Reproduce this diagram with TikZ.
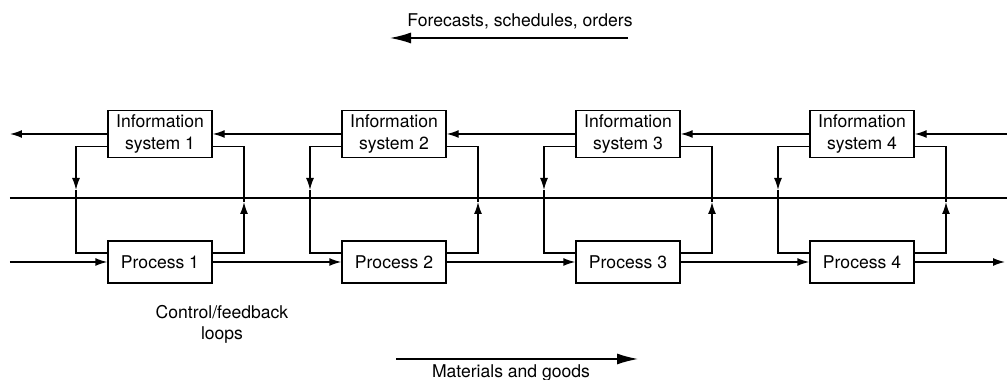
\documentclass[tikz,border=0pt]{standalone}
\usepackage{fontspec}
\setmainfont{TeX Gyre Heros}
\usetikzlibrary{arrows.meta}

\tikzset{
  box/.style={draw, line width=.8pt, minimum width=2.08cm, align=center, inner sep=1pt},
  infobox/.style={box, minimum height=.94cm},
  procbox/.style={box, minimum height=.84cm},
  line/.style={line width=.8pt},
  flow/.style={line, -{Latex[length=2.4mm,width=1.6mm]}},
  bigflow/.style={line, -{Latex[length=4.2mm,width=2.2mm]}},
}

\begin{document}
\begin{tikzpicture}

\useasboundingbox (0,0) rectangle (20.14,7.6) ;

\node [infobox] (info1) at (3.2,4.92) {Information\\system 1} ;
\node [infobox] (info2) at (7.88,4.92) {Information\\system 2} ;
\node [infobox] (info3) at (12.56,4.92) {Information\\system 3} ;
\node [infobox] (info4) at (17.24,4.92) {Information\\system 4} ;

\node [procbox] (proc1) at (3.2,2.36) {Process 1} ;
\node [procbox] (proc2) at (7.88,2.36) {Process 2} ;
\node [procbox] (proc3) at (12.56,2.36) {Process 3} ;
\node [procbox] (proc4) at (17.24,2.36) {Process 4} ;

% ends at the edges
\coordinate (infoout) at (0.2,4.92) ;
\coordinate (infoin) at (20.14,4.92) ;
\coordinate (procin) at (0.2,2.36) ;
\coordinate (procout) at (20.1,2.36) ;
\coordinate (splitL) at (0.2,3.64) ;
\coordinate (splitR) at (20.14,3.64) ;

\draw [line] (splitL) to (splitR) ;

\draw [flow] (infoin) to (info4) ;
\draw [flow] (info4) to (info3) ;
\draw [flow] (info3) to (info2) ;
\draw [flow] (info2) to (info1) ;
\draw [flow] (info1) to (infoout) ;

\draw [flow] (procin) to (proc1) ;
\draw [flow] (proc1) to (proc2) ;
\draw [flow] (proc2) to (proc3) ;
\draw [flow] (proc3) to (proc4) ;
\draw [flow] (proc4) to (procout) ;

% control/feedback loops
\coordinate (down1) at (1.52,3.8) ;
\coordinate (down2) at (6.2,3.8) ;
\coordinate (down3) at (10.88,3.8) ;
\coordinate (down4) at (15.56,3.8) ;
\coordinate (up1) at (4.88,3.56) ;
\coordinate (up2) at (9.56,3.56) ;
\coordinate (up3) at (14.24,3.56) ;
\coordinate (up4) at (18.92,3.56) ;

\draw [flow] ([yshift=-.25cm]info1.west) -| (down1) ;
\draw [line] (down1) |- ([yshift=.18cm]proc1.west) ;
\draw [flow] ([yshift=.18cm]proc1.east) -| (up1) ;
\draw [line] (up1) |- ([yshift=-.25cm]info1.east) ;

\draw [flow] ([yshift=-.25cm]info2.west) -| (down2) ;
\draw [line] (down2) |- ([yshift=.18cm]proc2.west) ;
\draw [flow] ([yshift=.18cm]proc2.east) -| (up2) ;
\draw [line] (up2) |- ([yshift=-.25cm]info2.east) ;

\draw [flow] ([yshift=-.25cm]info3.west) -| (down3) ;
\draw [line] (down3) |- ([yshift=.18cm]proc3.west) ;
\draw [flow] ([yshift=.18cm]proc3.east) -| (up3) ;
\draw [line] (up3) |- ([yshift=-.25cm]info3.east) ;

\draw [flow] ([yshift=-.25cm]info4.west) -| (down4) ;
\draw [line] (down4) |- ([yshift=.18cm]proc4.west) ;
\draw [flow] ([yshift=.18cm]proc4.east) -| (up4) ;
\draw [line] (up4) |- ([yshift=-.25cm]info4.east) ;

% labels and direction arrows
\node (forecasts) at (10.4,7.18) {Forecasts, schedules, orders} ;
\coordinate (fcstart) at (12.56,6.84) ;
\coordinate (fcend) at (7.8,6.84) ;
\draw [bigflow] (fcstart) to (fcend) ;

\node [align=center] (loops) at (4.44,1.12) {Control/feedback\\loops} ;

\coordinate (matstart) at (7.92,0.42) ;
\coordinate (matend) at (12.76,0.42) ;
\draw [bigflow] (matstart) to (matend) ;
\node (materials) at (10.22,0.14) {Materials and goods} ;

\end{tikzpicture}
\end{document}
